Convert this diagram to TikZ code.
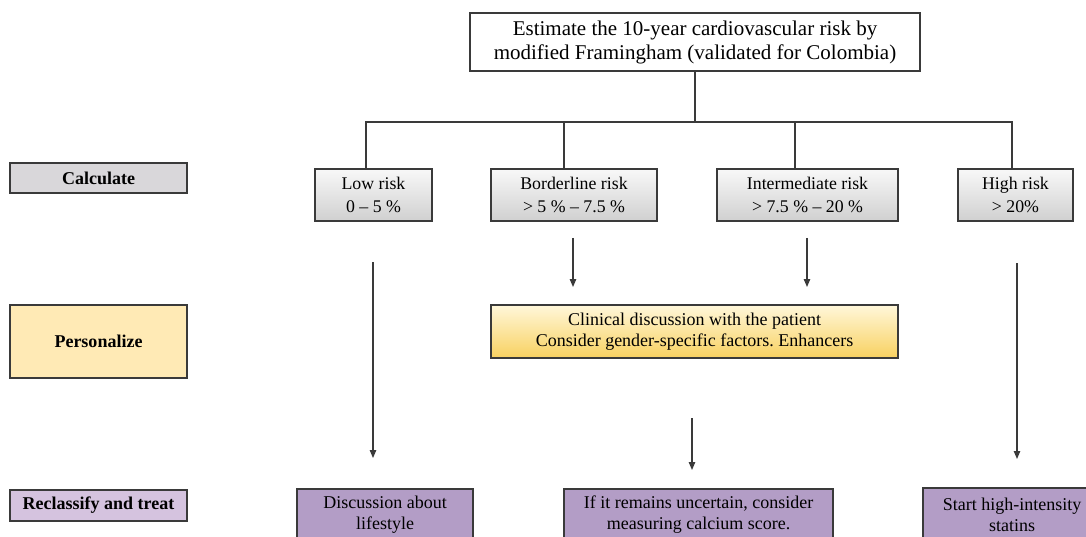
\documentclass[tikz,border=0pt]{standalone}
\usepackage{fontspec}
\setmainfont{Liberation Serif}
\usetikzlibrary{arrows.meta}
\definecolor{lineC}{HTML}{3A3A3A}
\definecolor{calcC}{HTML}{D9D7DA}
\definecolor{persC}{HTML}{FFEAB5}
\definecolor{reclC}{HTML}{D5C3DF}
\definecolor{purpC}{HTML}{B39DC6}
\definecolor{riskTop}{HTML}{F8F8F8}
\definecolor{riskBot}{HTML}{D0D0D0}
\definecolor{clinTop}{HTML}{FFF7DA}
\definecolor{clinBot}{HTML}{F8D160}
\tikzset{
  x=1pt, y=-1pt,
  box/.style={draw=lineC, line width=1.1pt, rectangle, align=center, inner sep=2pt,
    font=\fontsize{18}{21}\selectfont},
  labelbox/.style={box, font=\fontsize{18}{21}\selectfont\bfseries, minimum width=177pt},
  riskbox/.style={box, top color=riskTop, bottom color=riskBot, minimum height=52pt,
    font=\fontsize{17.8}{23}\selectfont},
  purpbox/.style={box, fill=purpC},
  conn/.style={draw=lineC, line width=1.1pt},
  arr/.style={conn, -{Triangle[length=8pt,width=6.5pt]}}
}
\begin{document}
\frenchspacing
\begin{tikzpicture}
\useasboundingbox (0,0) rectangle (1086,537);
\clip (0,0) rectangle (1086,537);
% top box
\node[box, fill=white, minimum width=450pt, minimum height=58pt, font=\fontsize{21}{24}\selectfont] (top) at (695,42)
  {Estimate the 10-year cardiovascular risk by\\modified Framingham (validated for Colombia)};
% left labels
\node[labelbox, fill=calcC, minimum height=30pt] (calc) at (98.5,178) {Calculate};
\node[labelbox, fill=persC, minimum height=73pt] (pers) at (98.5,341.5) {Personalize};
\node[labelbox, fill=reclC, minimum height=31pt] (recl) at (98.5,505.5) {Reclassify and treat};
% risk boxes
\node[riskbox, minimum width=117pt] (low) at (373.5,195) {Low risk\\0 – 5 \%};
\node[riskbox, minimum width=166pt] (bord) at (574,195) {Borderline risk\\> 5 \% – 7.5 \%};
\node[riskbox, minimum width=181pt] (inter) at (807.5,195) {Intermediate risk\\> 7.5 \% – 20 \%};
\node[riskbox, minimum width=115pt] (high) at (1015.5,195) {High risk\\> 20\%};
% clinical discussion
\node[box, top color=clinTop, bottom color=clinBot, minimum width=407pt, minimum height=53pt] (clin) at (694.5,331.5)
  {Clinical discussion with the patient\\Consider gender-specific factors. Enhancers};
% bottom boxes
\node[purpbox, minimum width=176pt, minimum height=52pt] (disc) at (385,515) {Discussion about\\lifestyle};
\node[purpbox, minimum width=269pt, minimum height=52pt] (unc) at (698.5,515) {If it remains uncertain, consider\\measuring calcium score.};
\node[purpbox, minimum width=178pt, minimum height=54pt] (start) at (1012,515) {Start high-intensity\\statins};
% bus
\coordinate (busT) at (695,122);
\coordinate (busL) at (366,122);
\coordinate (busR) at (1012,122);
\coordinate (busB) at (564,122);
\coordinate (busI) at (795,122);
\draw[conn] (top.south) -- (busT);
\draw[conn] (low.north -| busL) -- (busL) -- (busR) -- (high.north -| busR);
\draw[conn] (busB) -- (bord.north -| busB);
\draw[conn] (busI) -- (inter.north -| busI);
% arrows
\coordinate (a1s) at (373,262); \coordinate (a1e) at (373,458);
\coordinate (a2s) at (573,238); \coordinate (a2e) at (573,287);
\coordinate (a3s) at (807,238); \coordinate (a3e) at (807,287);
\coordinate (a4s) at (1017,263); \coordinate (a4e) at (1017,459);
\coordinate (a5s) at (692,418); \coordinate (a5e) at (692,470);
\draw[arr] (a1s) -- (a1e);
\draw[arr] (a2s) -- (a2e);
\draw[arr] (a3s) -- (a3e);
\draw[arr] (a4s) -- (a4e);
\draw[arr] (a5s) -- (a5e);
\end{tikzpicture}
\end{document}
